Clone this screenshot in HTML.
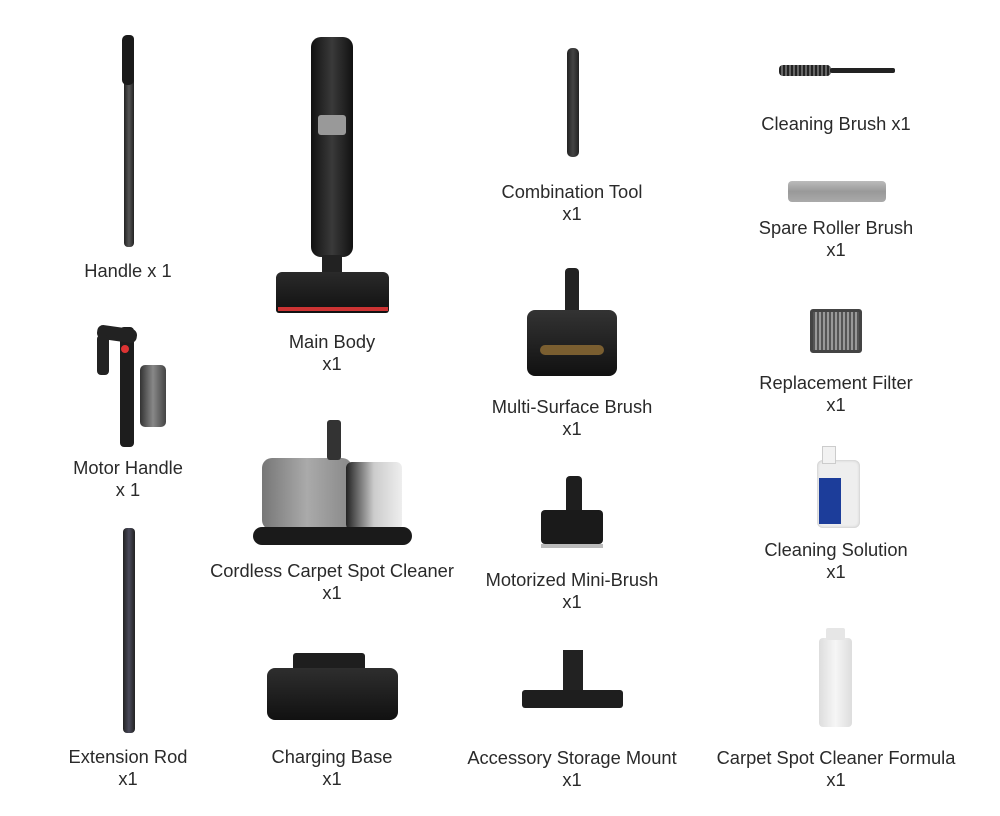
<!DOCTYPE html>
<html><head><meta charset="utf-8"><style>
body{margin:0;width:1000px;height:816px;background:#fff;position:relative;overflow:hidden;font-family:"Liberation Sans",sans-serif}
.t{position:absolute;width:300px;text-align:center;font-size:18.3px;color:#2a2a2a;line-height:22px}
.s{position:absolute}
</style></head><body>
<!-- Column 1 -->
<div class="s" style="left:124px;top:35px;width:10px;height:212px;background:linear-gradient(90deg,#222,#555,#222);border-radius:4px"></div>
<div class="s" style="left:122px;top:35px;width:12px;height:50px;background:#1a1a1a;border-radius:5px"></div>
<div class="t" style="left:-22px;top:260px">Handle x 1</div>

<div class="s" style="left:120px;top:327px;width:14px;height:120px;background:#1d1d1d;border-radius:4px"></div>
<div class="s" style="left:97px;top:327px;width:40px;height:14px;background:#222;border-radius:6px;transform:rotate(8deg)"></div>
<div class="s" style="left:97px;top:335px;width:12px;height:40px;background:#222;border-radius:4px"></div>
<div class="s" style="left:121px;top:345px;width:8px;height:8px;background:#d33;border-radius:50%"></div>
<div class="s" style="left:140px;top:365px;width:26px;height:62px;background:linear-gradient(90deg,#333,#888,#444);border-radius:5px"></div>
<div class="t" style="left:-22px;top:457px">Motor Handle<br>x 1</div>

<div class="s" style="left:123px;top:528px;width:12px;height:205px;background:linear-gradient(90deg,#222,#4a4a5a,#222);border-radius:4px"></div>
<div class="t" style="left:-22px;top:746px">Extension Rod<br>x1</div>

<!-- Column 2 -->
<div class="s" style="left:311px;top:37px;width:42px;height:220px;background:linear-gradient(90deg,#111,#3a3a3a,#111);border-radius:10px"></div>
<div class="s" style="left:318px;top:115px;width:28px;height:20px;background:#999;border-radius:3px"></div>
<div class="s" style="left:322px;top:255px;width:20px;height:20px;background:#222"></div>
<div class="s" style="left:276px;top:272px;width:113px;height:41px;background:linear-gradient(#2a2a2a,#111);border-radius:6px 6px 3px 3px"></div>
<div class="s" style="left:278px;top:307px;width:110px;height:4px;background:#c33"></div>
<div class="t" style="left:182px;top:331px">Main Body<br>x1</div>

<div class="s" style="left:262px;top:458px;width:90px;height:72px;background:linear-gradient(90deg,#777,#aaa,#888);border-radius:10px"></div>
<div class="s" style="left:346px;top:462px;width:56px;height:68px;background:linear-gradient(90deg,#222,#ccc,#eee);border-radius:6px"></div>
<div class="s" style="left:327px;top:420px;width:14px;height:40px;background:#333;border-radius:3px"></div>
<div class="s" style="left:253px;top:527px;width:159px;height:18px;background:#1a1a1a;border-radius:9px"></div>
<div class="t" style="left:182px;top:560px">Cordless Carpet Spot Cleaner<br>x1</div>

<div class="s" style="left:293px;top:653px;width:72px;height:20px;background:#1e1e1e;border-radius:3px"></div>
<div class="s" style="left:267px;top:668px;width:131px;height:52px;background:linear-gradient(#2e2e2e,#111);border-radius:8px"></div>
<div class="t" style="left:182px;top:746px">Charging Base<br>x1</div>

<!-- Column 3 -->
<div class="s" style="left:567px;top:48px;width:12px;height:109px;background:linear-gradient(90deg,#222,#444,#222);border-radius:5px"></div>
<div class="t" style="left:422px;top:181px">Combination Tool<br>x1</div>

<div class="s" style="left:565px;top:268px;width:14px;height:62px;background:#222;border-radius:4px"></div>
<div class="s" style="left:527px;top:310px;width:90px;height:66px;background:linear-gradient(#333,#111);border-radius:8px"></div>
<div class="s" style="left:540px;top:345px;width:64px;height:10px;background:#7a5e30;border-radius:5px"></div>
<div class="t" style="left:422px;top:396px">Multi-Surface Brush<br>x1</div>

<div class="s" style="left:566px;top:476px;width:16px;height:42px;background:#1e1e1e;border-radius:4px"></div>
<div class="s" style="left:541px;top:510px;width:62px;height:34px;background:#1a1a1a;border-radius:4px"></div>
<div class="s" style="left:541px;top:544px;width:62px;height:4px;background:#bbb"></div>
<div class="t" style="left:422px;top:569px">Motorized Mini-Brush<br>x1</div>

<div class="s" style="left:563px;top:650px;width:20px;height:46px;background:#222"></div>
<div class="s" style="left:522px;top:690px;width:101px;height:18px;background:#1e1e1e;border-radius:3px"></div>
<div class="t" style="left:422px;top:747px">Accessory Storage Mount<br>x1</div>

<!-- Column 4 -->
<div class="s" style="left:779px;top:65px;width:52px;height:11px;background:repeating-linear-gradient(90deg,#222 0 2px,#666 2px 4px);border-radius:4px"></div>
<div class="s" style="left:830px;top:68px;width:65px;height:5px;background:#222;border-radius:2px"></div>
<div class="t" style="left:686px;top:113px">Cleaning Brush x1</div>

<div class="s" style="left:788px;top:181px;width:98px;height:21px;background:linear-gradient(#bbb,#999,#aaa);border-radius:4px"></div>
<div class="t" style="left:686px;top:217px">Spare Roller Brush<br>x1</div>

<div class="s" style="left:810px;top:309px;width:52px;height:44px;background:repeating-linear-gradient(90deg,#555 0 2px,#999 2px 4px);border:3px solid #444;box-sizing:border-box;border-radius:3px"></div>
<div class="t" style="left:686px;top:372px">Replacement Filter<br>x1</div>

<div class="s" style="left:817px;top:460px;width:43px;height:68px;background:#eee;border-radius:6px;box-shadow:inset 0 0 3px #bbb"></div>
<div class="s" style="left:822px;top:446px;width:12px;height:16px;background:#f2f2f2;border:1px solid #ccc"></div>
<div class="s" style="left:819px;top:478px;width:22px;height:46px;background:#1c3d9a"></div>
<div class="t" style="left:686px;top:539px">Cleaning Solution<br>x1</div>

<div class="s" style="left:819px;top:638px;width:33px;height:89px;background:linear-gradient(90deg,#ddd,#f6f6f6,#ddd);border-radius:4px"></div>
<div class="s" style="left:826px;top:628px;width:19px;height:12px;background:#e6e6e6;border-radius:2px"></div>
<div class="t" style="left:686px;top:747px">Carpet Spot Cleaner Formula<br>x1</div>
</body></html>
